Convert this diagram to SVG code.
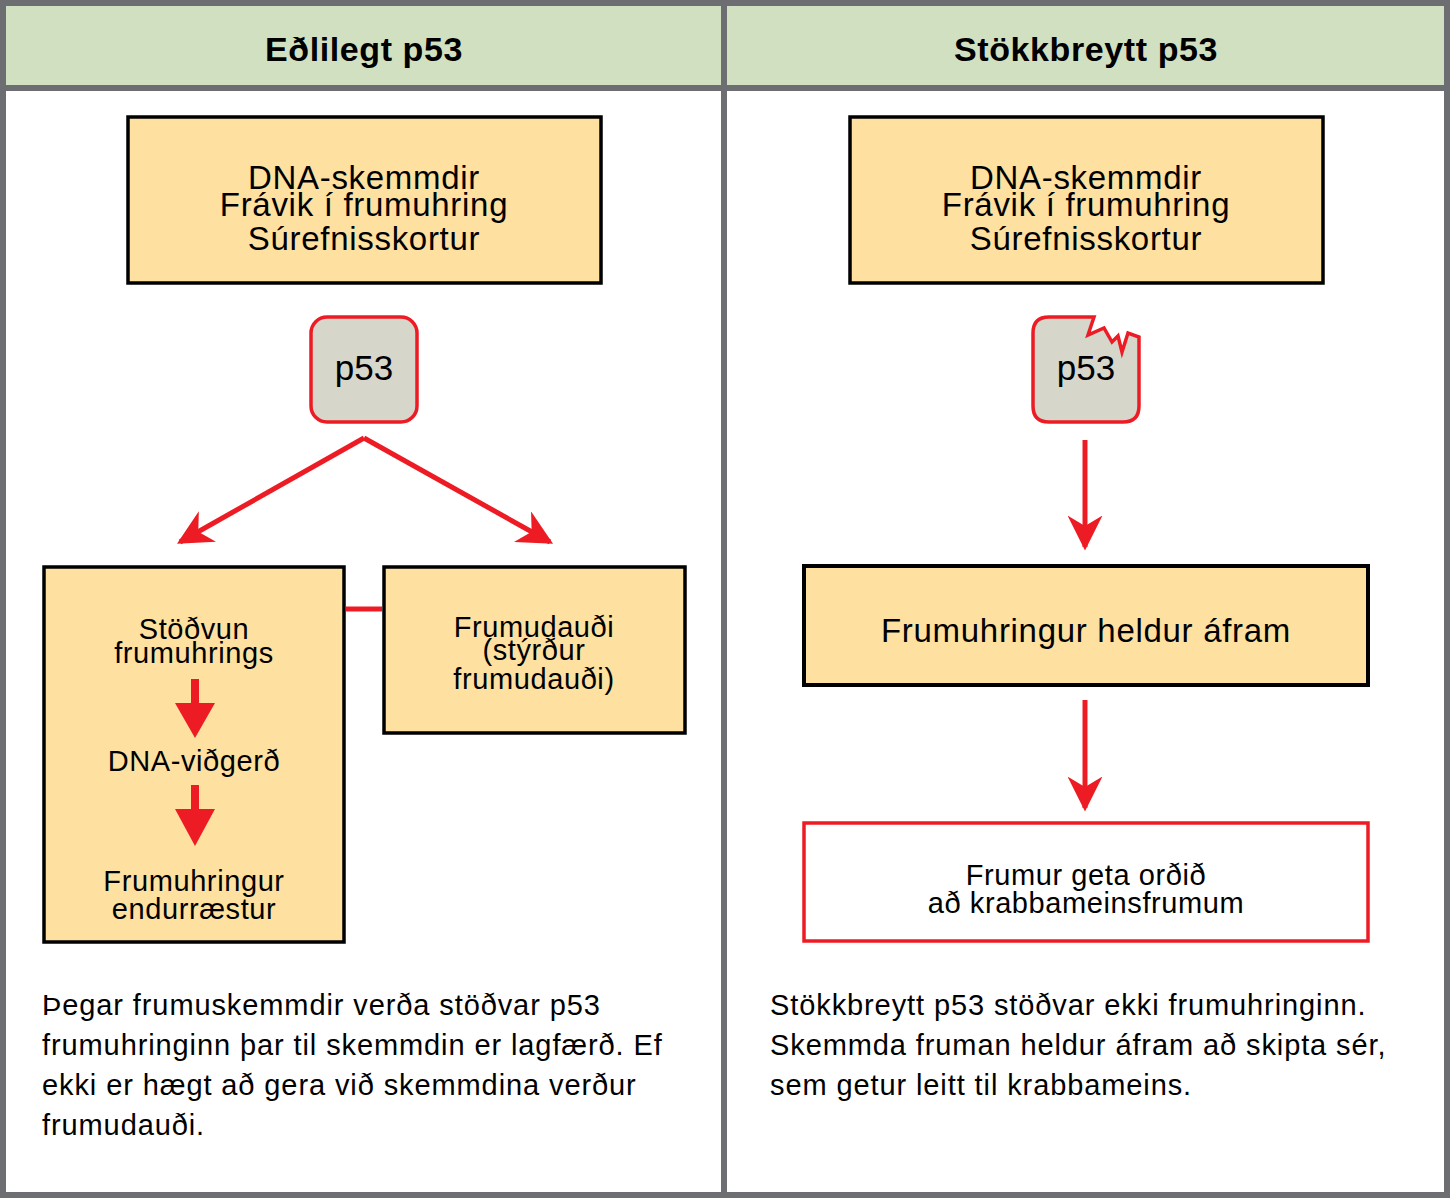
<svg xmlns="http://www.w3.org/2000/svg" width="1450" height="1198" viewBox="0 0 1450 1198">
<defs>
<style>
text{font-family:"Liberation Sans",Arial,sans-serif;fill:#000;text-anchor:middle}
.h{font-size:34px;font-weight:bold;letter-spacing:0.6px}
.b{font-size:33px;letter-spacing:0.7px}
.s{font-size:29px;letter-spacing:0.6px}
.p{font-size:29px;text-anchor:start;letter-spacing:0.9px}
.box{fill:#fee0a0;stroke:#000;stroke-width:3.5}
.p53{fill:#d6d6cb;stroke:#ed1c24;stroke-width:3.5}
.ar{stroke:#ed1c24;stroke-width:5;fill:none}
</style>
<marker id="chev" viewBox="0 0 20 20" refX="18" refY="10" markerWidth="7" markerHeight="7" markerUnits="strokeWidth" orient="auto">
<path d="M0,0 L20,10 L0,20 L6,10 Z" fill="#ed1c24"/>
</marker>
</defs>
<rect x="0" y="0" width="1450" height="1198" fill="#fff"/>
<rect x="6" y="6" width="1438" height="82" fill="#d0e0c0"/>
<g fill="none" stroke="#6d6e71" stroke-width="6">
<rect x="3" y="3" width="1444" height="1192"/>
<line x1="724" y1="3" x2="724" y2="1195"/>
<line x1="3" y1="88" x2="1447" y2="88"/>
</g>
<text class="h" x="364" y="61">Eðlilegt p53</text>
<text class="h" x="1086" y="61">Stökkbreytt p53</text>

<g id="stress-left">
<rect class="box" x="128" y="117" width="473" height="166"/>
<text class="b" x="364" y="189">DNA-skemmdir</text>
<text class="b" x="364" y="216">Frávik í frumuhring</text>
<text class="b" x="364" y="250">Súrefnisskortur</text>
</g>
<g id="p53-left">
<rect class="p53" x="311" y="317" width="106" height="105" rx="16"/>
<text x="364" y="380" style="font-size:35px">p53</text>
</g>
<g id="arrest">
<rect class="box" x="44" y="567" width="300" height="375"/>
<text class="s" x="194" y="639">Stöðvun</text>
<text class="s" x="194" y="663">frumuhrings</text>
<text class="s" x="194" y="771">DNA-viðgerð</text>
<text class="s" x="194" y="891">Frumuhringur</text>
<text class="s" x="194" y="919">endurræstur</text>
</g>
<g id="apoptosis">
<rect class="box" x="384" y="567" width="301" height="166"/>
<text class="s" x="534" y="637">Frumudauði</text>
<text class="s" x="534" y="660">(stýrður</text>
<text class="s" x="534" y="689">frumudauði)</text>
</g>
<text class="p" x="42" y="1015">Þegar frumuskemmdir verða stöðvar p53</text>
<text class="p" x="42" y="1055">frumuhringinn þar til skemmdin er lagfærð. Ef</text>
<text class="p" x="42" y="1095">ekki er hægt að gera við skemmdina verður</text>
<text class="p" x="42" y="1135">frumudauði.</text>

<g id="stress-right">
<rect class="box" x="850" y="117" width="473" height="166"/>
<text class="b" x="1086" y="189">DNA-skemmdir</text>
<text class="b" x="1086" y="216">Frávik í frumuhring</text>
<text class="b" x="1086" y="250">Súrefnisskortur</text>
</g>
<g id="p53-right">
<path class="p53" d="M1049,317 L1094,317 L1088,335 L1104,328 L1112,342 L1118,336 L1122,352 L1128,333 L1139,337 L1139,406 Q1139,422 1123,422 L1049,422 Q1033,422 1033,406 L1033,333 Q1033,317 1049,317 Z"/>
<text x="1086" y="380" style="font-size:35px">p53</text>
</g>
<g id="continues">
<rect class="box" x="804" y="566" width="564" height="119" style="stroke-width:4"/>
<text class="b" x="1086" y="642">Frumuhringur heldur áfram</text>
</g>
<g id="cancer">
<rect x="804" y="823" width="564" height="118" fill="#fff" stroke="#ed1c24" stroke-width="3.5"/>
<text class="s" x="1086" y="885">Frumur geta orðið</text>
<text class="s" x="1086" y="913">að krabbameinsfrumum</text>
</g>
<text class="p" x="770" y="1015">Stökkbreytt p53 stöðvar ekki frumuhringinn.</text>
<text class="p" x="770" y="1055">Skemmda fruman heldur áfram að skipta sér,</text>
<text class="p" x="770" y="1095">sem getur leitt til krabbameins.</text>

<g id="connectors">
<line class="ar" x1="364" y1="438" x2="180" y2="542" marker-end="url(#chev)"/>
<line class="ar" x1="364" y1="438" x2="550" y2="542" marker-end="url(#chev)"/>
<line x1="346" y1="609" x2="382" y2="609" stroke="#ed1c24" stroke-width="5"/>
<rect x="191" y="679" width="8" height="26" fill="#ed1c24"/>
<polygon points="175,703 215,703 195,738" fill="#ed1c24"/>
<rect x="191" y="785" width="8" height="26" fill="#ed1c24"/>
<polygon points="175,809 215,809 195,846" fill="#ed1c24"/>
<line class="ar" x1="1085" y1="440" x2="1085" y2="547" marker-end="url(#chev)"/>
<line class="ar" x1="1085" y1="700" x2="1085" y2="808" marker-end="url(#chev)"/>
</g>
</svg>
